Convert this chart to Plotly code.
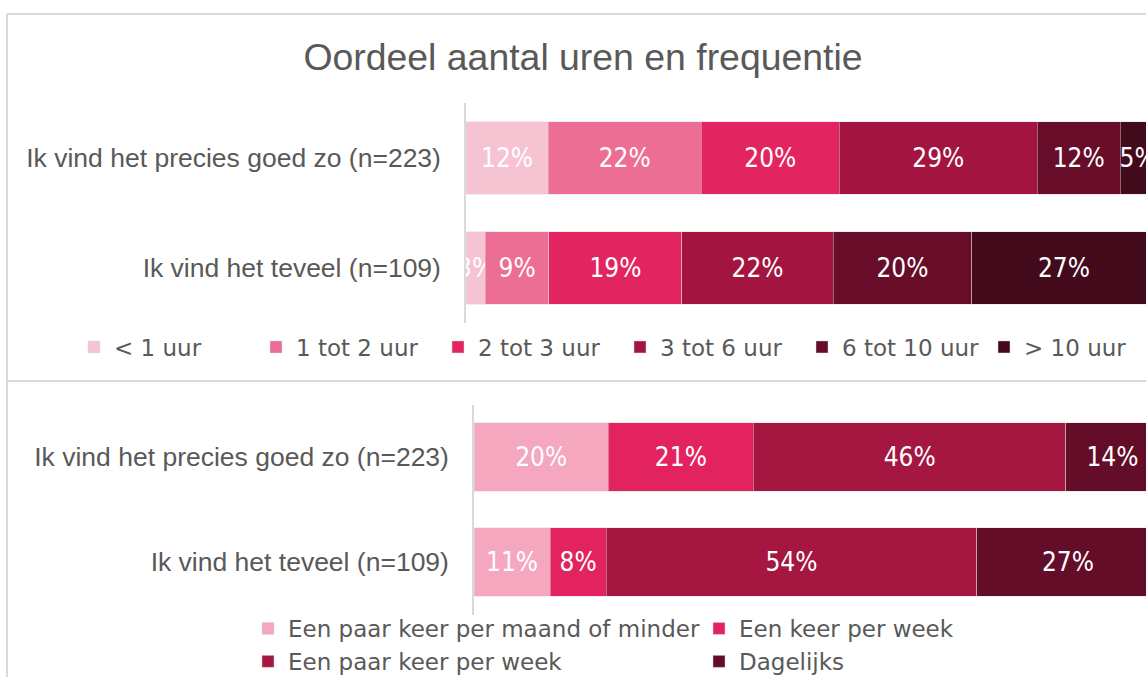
import plotly.graph_objects as go

# ---- data ----
categories = ["Ik vind het precies goed zo (n=223)", "Ik vind het teveel (n=109)"]

uren_labels = ["< 1 uur", "1 tot 2 uur", "2 tot 3 uur", "3 tot 6 uur", "6 tot 10 uur", "> 10 uur"]
uren_goed = [11.9, 22.2, 20.0, 28.7, 12.0, 5.2]
uren_teveel = [2.8, 9.2, 19.3, 21.9, 20.1, 26.7]
uren_colors = ["#F6C3D3", "#EC6E94", "#E22560", "#A31540", "#670D29", "#430A1C"]

freq_labels = ["Een paar keer per maand of minder", "Een keer per week",
               "Een paar keer per week", "Dagelijks"]
freq_goed = [19.6, 21.2, 45.6, 13.6]
freq_teveel = [11.1, 8.2, 54.1, 26.6]
freq_colors = ["#F4A7BF", "#E22360", "#A51641", "#630D28"]

title_text = "Oordeel aantal uren en frequentie"

# ---- layout constants ----
W, H = 1146, 677
GRAY = "#595959"
LABEL_FONT = dict(family="DejaVu Sans Condensed, DejaVu Sans, sans-serif", size=26, color="white")

fig = go.Figure()

for i, name in enumerate(uren_labels):
    fig.add_trace(go.Bar(
        y=categories, x=[uren_goed[i], uren_teveel[i]], name=name, orientation="h",
        marker=dict(color=uren_colors[i], line=dict(color="rgba(220,220,220,0.45)", width=1)),
        texttemplate="%{x:.0f}%", textposition="inside", insidetextanchor="middle",
        constraintext="none", textangle=0, textfont=LABEL_FONT,
        xaxis="x", yaxis="y", legend="legend", hoverinfo="skip",
    ))

for i, name in enumerate(freq_labels):
    fig.add_trace(go.Bar(
        y=categories, x=[freq_goed[i], freq_teveel[i]], name=name, orientation="h",
        marker=dict(color=freq_colors[i], line=dict(color="rgba(220,220,220,0.45)", width=1)),
        texttemplate="%{x:.0f}%", textposition="inside", insidetextanchor="middle",
        constraintext="none", textangle=0, textfont=LABEL_FONT,
        xaxis="x2", yaxis="y2", legend="legend2", hoverinfo="skip",
    ))

def py(px):
    return 1 - px / H

cat_font = dict(family="Liberation Sans, Arial, sans-serif", size=26.5, color=GRAY)
leg_font = dict(family="DejaVu Sans, Verdana, sans-serif", size=23, color=GRAY)

fig.update_layout(
    width=W, height=H,
    margin=dict(l=0, r=0, t=0, b=0, autoexpand=False),
    paper_bgcolor="white", plot_bgcolor="white",
    barmode="stack",
    bargap=0.345,
    title=dict(text=title_text, x=583 / W, xanchor="center", y=py(57), yanchor="middle",
               font=dict(family="Liberation Sans, Arial, sans-serif", size=37.4, color=GRAY)),
    xaxis=dict(domain=[466 / W, 1], range=[0, 680 / 6.9], visible=False, fixedrange=True),
    yaxis=dict(domain=[py(323), py(103)], categoryorder="array", categoryarray=categories,
               autorange="reversed", showline=True, linecolor="#D9D9D9", linewidth=1.5,
               ticks="outside", ticklen=18, tickcolor="rgba(0,0,0,0)", tickfont=cat_font,
               showgrid=False, zeroline=False, automargin=False),
    xaxis2=dict(domain=[474 / W, 1], range=[0, 672 / 6.85], visible=False, fixedrange=True,
                anchor="y2"),
    yaxis2=dict(domain=[py(614.5), py(404.5)], categoryorder="array", categoryarray=categories,
                autorange="reversed", showline=True, linecolor="#D9D9D9", linewidth=1.5,
                ticks="outside", ticklen=18, tickcolor="rgba(0,0,0,0)", tickfont=cat_font,
                showgrid=False, zeroline=False, anchor="x2", automargin=False),
    legend=dict(orientation="h", x=74 / W, xanchor="left", y=py(347), yanchor="middle",
                font=leg_font, bgcolor="rgba(0,0,0,0)", traceorder="normal",
                entrywidth=137, entrywidthmode="pixels"),
    legend2=dict(orientation="h", x=248 / W, xanchor="left", y=py(607), yanchor="top",
                 font=leg_font, bgcolor="rgba(0,0,0,0)", traceorder="normal",
                 entrywidth=406, entrywidthmode="pixels"),
    showlegend=True,
)

# chart frames (decorative borders)
frame = dict(type="line", xref="paper", yref="paper", line=dict(color="#D9D9D9", width=2), layer="below")
fig.add_shape(x0=7 / W, x1=1, y0=py(14), y1=py(14), **frame)
fig.add_shape(x0=7 / W, x1=7 / W, y0=py(14), y1=0, **frame)
fig.add_shape(x0=7 / W, x1=1, y0=py(381), y1=py(381), **frame)

fig.write_html("out.html", config={"displayModeBar": False},
               post_script="document.body.style.margin='0';document.body.style.overflow='hidden';")
